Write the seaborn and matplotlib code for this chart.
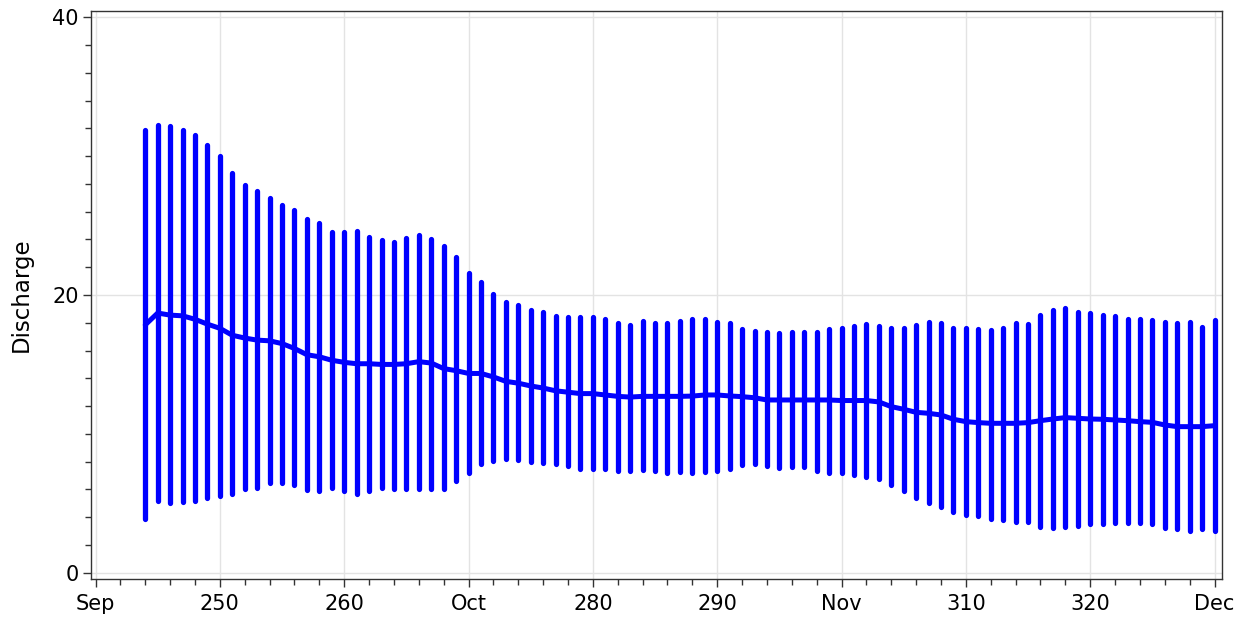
import matplotlib
matplotlib.use("Agg")
import matplotlib.pyplot as plt
from matplotlib.ticker import MultipleLocator, FixedLocator
import seaborn as sns
import pandas as pd

# day of year (simplified 30-day months, Sep = 240)
days = list(range(244, 331))

upper = [
    31.9, 32.25, 32.2, 31.9, 31.5, 30.8, 30.0, 28.8, 27.9, 27.5, 27.0, 26.5, 26.1, 25.5, 25.2,
    24.57, 24.57, 24.64, 24.2, 23.97, 23.85, 24.1, 24.33, 24.0, 23.5, 22.7, 21.6, 20.9, 20.1, 19.5,
    19.3, 18.9, 18.75, 18.5, 18.4, 18.4, 18.4, 18.25, 17.95, 17.85, 18.1, 18.0, 18.0, 18.1,
    18.28, 18.28, 18.05, 17.97, 17.56, 17.44, 17.32, 17.25, 17.32, 17.37, 17.37, 17.53, 17.6, 17.77, 17.9,
    17.75, 17.6, 17.65, 17.85, 18.04, 18.0, 17.6, 17.6, 17.56, 17.49, 17.6, 17.97, 17.9, 18.57,
    18.93, 19.05, 18.76, 18.69, 18.57, 18.5, 18.28, 18.28, 18.2, 18.04, 18.0, 18.04, 17.72, 18.2,
]

lower = [
    3.85, 5.2, 5.0, 5.1, 5.2, 5.35, 5.5, 5.7, 6.0, 6.1, 6.45, 6.45, 6.3, 5.95, 5.9,
    6.1, 5.85, 5.65, 5.9, 6.1, 6.05, 6.05, 6.0, 6.05, 6.0, 6.6, 7.15, 7.8, 8.05, 8.2,
    8.1, 7.95, 7.9, 7.8, 7.7, 7.5, 7.5, 7.45, 7.35, 7.3, 7.4, 7.3, 7.2, 7.25,
    7.18, 7.23, 7.35, 7.45, 7.76, 7.8, 7.7, 7.57, 7.6, 7.6, 7.35, 7.2, 7.16, 7.04, 6.9,
    6.74, 6.32, 5.9, 5.4, 5.04, 4.71, 4.4, 4.13, 4.08, 3.87, 3.8, 3.67, 3.67, 3.27,
    3.2, 3.31, 3.36, 3.5, 3.5, 3.56, 3.6, 3.6, 3.5, 3.2, 3.13, 3.03, 3.13, 3.03,
]

mean = [
    17.85, 18.7, 18.55, 18.5, 18.25, 17.9, 17.6, 17.1, 16.9, 16.75, 16.7, 16.5, 16.15, 15.7, 15.55,
    15.3, 15.15, 15.05, 15.05, 15.0, 15.0, 15.05, 15.2, 15.1, 14.7, 14.55, 14.35, 14.35, 14.1, 13.78,
    13.65, 13.45, 13.3, 13.1, 13.0, 12.9, 12.9, 12.8, 12.7, 12.65, 12.7, 12.7, 12.7, 12.7,
    12.72, 12.8, 12.8, 12.73, 12.68, 12.6, 12.44, 12.44, 12.44, 12.44, 12.44, 12.44, 12.4, 12.4, 12.4,
    12.3, 11.96, 11.77, 11.55, 11.48, 11.36, 11.05, 10.88, 10.81, 10.76, 10.76, 10.76, 10.81, 10.95,
    11.07, 11.17, 11.12, 11.07, 11.05, 11.0, 10.95, 10.88, 10.83, 10.64, 10.52, 10.52, 10.52, 10.59,
]

tick_pos = [240, 250, 260, 270, 280, 290, 300, 310, 320, 330]
tick_labels = ["Sep", "250", "260", "Oct", "280", "290", "Nov", "310", "320", "Dec"]

df = pd.DataFrame({"day": days, "upper": upper, "lower": lower, "mean": mean})

sns.set_style("white")
plt.rcParams["font.family"] = ["DejaVu Sans"]

fig = plt.figure(figsize=(12.49, 6.22), dpi=100)
ax = fig.add_axes([0.0729, 0.0696, 0.9055, 0.9134])

blue = "#0000ff"

# range bars
ax.vlines(df["day"], df["lower"], df["upper"], color=blue, linewidth=3.8,
          capstyle="round", zorder=3)

# mean line
sns.lineplot(data=df, x="day", y="mean", ax=ax, color=blue, linewidth=3.6,
             solid_capstyle="round", zorder=4)

ax.set_xlim(239.64, 330.6)
ax.set_ylim(-0.43, 40.48)

ax.xaxis.set_major_locator(FixedLocator(tick_pos))
ax.set_xticklabels(tick_labels)
ax.xaxis.set_minor_locator(MultipleLocator(2))
ax.yaxis.set_major_locator(FixedLocator([0, 20, 40]))
ax.yaxis.set_minor_locator(MultipleLocator(2))

ax.tick_params(axis="both", which="major", direction="out", length=6, width=1,
               color="#333333", labelsize=15, labelcolor="black",
               bottom=True, left=True, top=False, right=False)
ax.tick_params(axis="both", which="minor", direction="out", length=4, width=1,
               color="#333333", bottom=True, left=True, top=False, right=False)
ax.tick_params(axis="x", which="major", pad=5)
ax.tick_params(axis="y", which="major", pad=3)

ax.grid(True, which="major", color="#e3e3e3", linewidth=1)
ax.set_axisbelow(True)

for s in ax.spines.values():
    s.set_visible(True)
    s.set_color("#333333")
    s.set_linewidth(1)

ax.set_xlabel("")
ax.set_ylabel("Discharge", fontsize=16.5, color="black", labelpad=14)

fig.savefig("out.png", dpi=100)
